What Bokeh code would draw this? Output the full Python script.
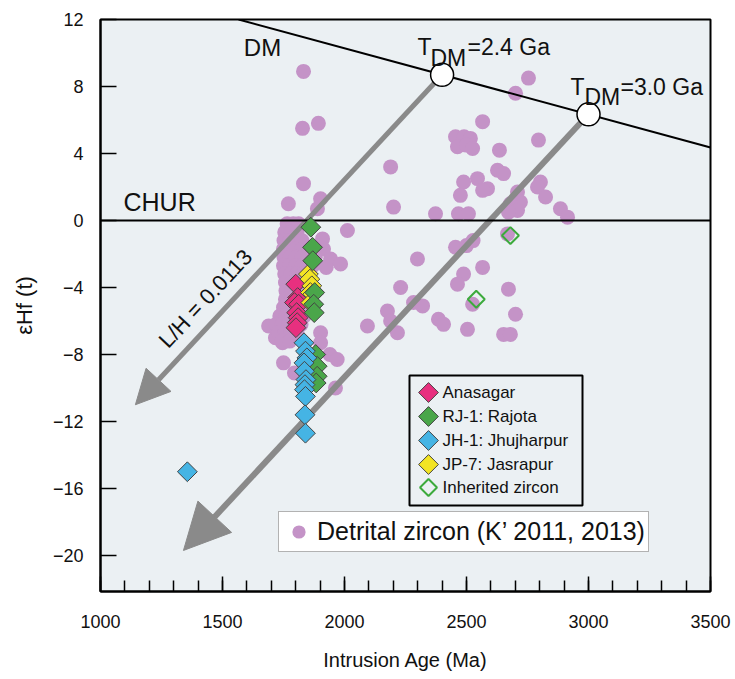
from bokeh.plotting import figure
from bokeh.models import (ColumnDataSource, Arrow, NormalHead, Label, Legend, LegendItem,
                          SingleIntervalTicker, Range1d)
from bokeh.embed import file_html
from bokeh.resources import INLINE

# ---------------- data ----------------
detrital_age = [
    1832, 1828, 1893, 2189, 1832, 1770, 1902, 1889, 2201, 2012, 1910, 1914, 1943, 1984, 1925,
    2299, 2230, 2283, 2320, 2176, 2189, 2094, 2217, 2385, 2406, 1902, 1902, 1940, 1970, 1963,
    1689, 1717, 1746, 1750, 1795,
    2754, 2701, 2566, 2795, 2455, 2490, 2516, 2463, 2500, 2525, 2635, 2627, 2652, 2488, 2545,
    2586, 2566, 2475, 2803, 2791, 2824, 2709, 2721, 2680, 2709, 2672, 2885, 2914, 2373, 2467,
    2508, 2668, 2455, 2500, 2527, 2566, 2488, 2463, 2672, 2525, 2701, 2504, 2652, 2680,
    1765, 1790, 1812,
    1755, 1780, 1805,
    1752, 1777, 1802, 1826,
    1750, 1775, 1800, 1825, 1872,
    1752, 1777, 1802, 1827, 1880,
    1750, 1775, 1800, 1826, 1870,
    1755, 1780, 1805, 1830,
    1758, 1783, 1808, 1835,
    1760, 1785, 1810, 1840,
    1758, 1782, 1806, 1835,
    1750, 1775, 1800, 1828,
    1735, 1760, 1785, 1810, 1835,
    1720, 1745, 1770, 1795, 1822,
    1730, 1755, 1780, 1805,
    1745, 1775,
]
detrital_eps = [
    8.9, 5.5, 5.8, 3.2, 2.2, 1.0, 1.3, 0.7, 0.8, -0.6, -1.1, -1.7, -2.3, -2.6, -2.8,
    -2.3, -4.0, -4.9, -5.1, -5.4, -6.0, -6.3, -6.7, -5.9, -6.2, -6.7, -7.3, -8.0, -8.3, -10.0,
    -6.3, -7.0, -7.3, -8.5, -9.1,
    8.5, 7.6, 5.9, 4.8, 5.0, 5.0, 4.9, 4.4, 4.5, 4.3, 4.2, 3.0, 2.8, 2.3, 2.5,
    1.9, 1.8, 1.5, 2.3, 2.0, 1.4, 1.7, 1.1, 1.0, 0.6, 0.5, 0.7, 0.2, 0.4, 0.4,
    0.4, -0.8, -1.6, -1.5, -1.2, -2.8, -3.2, -3.8, -4.1, -5.0, -5.6, -6.5, -6.8, -6.8,
    -0.2, -0.2, -0.2,
    -0.7, -0.7, -0.7,
    -1.2, -1.2, -1.2, -1.2,
    -1.7, -1.7, -1.7, -1.7, -1.7,
    -2.2, -2.2, -2.2, -2.2, -2.2,
    -2.7, -2.7, -2.7, -2.7, -2.7,
    -3.2, -3.2, -3.2, -3.2,
    -3.7, -3.7, -3.7, -3.7,
    -4.2, -4.2, -4.2, -4.2,
    -4.7, -4.7, -4.7, -4.7,
    -5.2, -5.2, -5.2, -5.2,
    -5.7, -5.7, -5.7, -5.7, -5.7,
    -6.2, -6.2, -6.2, -6.2, -6.2,
    -6.7, -6.7, -6.7, -6.7,
    -7.2, -7.2,
]

anasagar_age = [1800, 1808, 1795, 1812, 1804, 1810, 1806, 1801]
anasagar_eps = [-3.8, -4.6, -4.9, -5.0, -5.5, -5.8, -6.1, -6.4]

rajota_age = [1862, 1869, 1870, 1878, 1874, 1876, 1882, 1888, 1888, 1884]
rajota_eps = [-0.4, -1.6, -2.4, -4.3, -5.0, -5.5, -8.0, -8.7, -9.3, -9.7]

jhujharpur_age = [1834, 1840, 1846, 1834, 1836, 1842, 1838, 1836, 1840, 1838, 1840, 1356]
jhujharpur_eps = [-7.3, -7.8, -8.2, -8.5, -9.0, -9.5, -9.8, -10.1, -10.5, -11.6, -12.7, -15.0]

jasrapur_age = [1852, 1858, 1866, 1860, 1870, 1862]
jasrapur_eps = [-3.2, -3.5, -3.9, -4.3, -4.4, -4.9]

inherited_age = [2680, 2540]
inherited_eps = [-0.9, -4.7]

dm_age = [1566, 3500]
dm_eps = [12.0, 4.36]
chur_age = [1000, 3500]
chur_eps = [0.0, 0.0]

tdm_age = [2400, 3000]
tdm_eps = [8.7, 6.34]
arrow_end_age = [1143, 1340]
arrow_end_eps = [-11.0, -19.7]

legend_labels = ["Anasagar", "RJ-1: Rajota", "JH-1: Jhujharpur", "JP-7: Jasrapur", "Inherited zircon"]
detrital_label = "Detrital zircon (K\u2019 2011, 2013)"

# ---------------- style ----------------
FONT = "Liberation Sans"
BG = "#ebf0f3"
PURPLE = "#c493c7"
GRAY = "#8a8a8a"
ANA = "#e8307f"
RAJ = "#4aa64a"
JHU = "#45b4e4"
JAS = "#f3e424"
INH = "#3caa3c"
EDGE = "#444444"

W, H = 735, 679
FL, FR, FT, FB = 100, 710, 19, 591
X0, X1 = 1000, 3500
Y0, Y1 = -22.15, 12.0


def ax(px):
    return X0 + (px - FL) * (X1 - X0) / (FR - FL)


def ay(py):
    return Y1 - (py - FT) * (Y1 - Y0) / (FB - FT)


p = figure(width=W, height=H, x_range=Range1d(X0, X1), y_range=Range1d(Y0, Y1),
           output_backend="svg", toolbar_location=None, title=None,
           min_border_left=FL, min_border_right=W - FR, min_border_top=FT,
           min_border_bottom=H - FB, background_fill_color=BG,
           border_fill_color="white", outline_line_color="black", outline_line_width=2)
p.grid.visible = False

xa = p.xaxis[0]
xa.ticker = SingleIntervalTicker(interval=500, num_minor_ticks=5)
xa.axis_label = "Intrusion Age (Ma)"
xa.major_tick_in = 15
xa.major_tick_out = 0
xa.minor_tick_in = 11
xa.minor_tick_out = 0
xa.major_label_standoff = 23
xa.axis_label_standoff = 18

ya = p.yaxis[0]
ya.ticker = SingleIntervalTicker(interval=4, num_minor_ticks=0)
ya.axis_label = "\u03b5Hf (t)"
ya.major_tick_in = 16
ya.major_tick_out = 0
ya.minor_tick_in = 0
ya.minor_tick_out = 0
ya.major_label_standoff = 17
ya.axis_label_standoff = 13

for a in (xa, ya):
    a.axis_line_width = 2
    a.axis_line_color = "black"
    a.major_tick_line_width = 1.5
    a.minor_tick_line_width = 1.5
    a.major_label_text_font = FONT
    a.major_label_text_font_size = "18px"
    a.major_label_text_color = "#111111"
    a.axis_label_text_font = FONT
    a.axis_label_text_font_size = "22px"
    a.axis_label_text_font_style = "normal"
    a.axis_label_text_color = "#111111"
xa.axis_label_text_font_size = "20px"

# detrital zircons
det = p.scatter(detrital_age, detrital_eps, marker="circle", size=15,
                fill_color=PURPLE, line_color=None)

# L/H evolution arrows (drawn over the circles, below the diamonds)
for i, (hs, lw) in enumerate([(34, 5), (46, 6)]):
    src = ColumnDataSource(dict(x0=[tdm_age[i]], y0=[tdm_eps[i]],
                                x1=[arrow_end_age[i]], y1=[arrow_end_eps[i]]))
    arr = Arrow(end=NormalHead(size=hs, fill_color=GRAY, line_color=GRAY, line_width=1),
                x_start="x0", y_start="y0", x_end="x1", y_end="y1", source=src,
                line_color=GRAY, line_width=lw, level="glyph")
    p.renderers.append(arr)

# CHUR and DM reference lines
p.line(chur_age, chur_eps, line_color="black", line_width=2)
p.line(dm_age, dm_eps, line_color="black", line_width=2)

# sample diamonds
DIA = dict(marker="square", angle=45, angle_units="deg", size=14, line_color=EDGE, line_width=1)
p.scatter(anasagar_age, anasagar_eps, fill_color=ANA, **DIA)
p.scatter(jasrapur_age, jasrapur_eps, fill_color=JAS, **DIA)
p.scatter(rajota_age, rajota_eps, fill_color=RAJ, **DIA)
p.scatter(jhujharpur_age, jhujharpur_eps, fill_color=JHU, **DIA)
p.scatter(inherited_age, inherited_eps, marker="square", angle=45, angle_units="deg", size=12,
          fill_color=None, line_color=INH, line_width=2)

# T_DM points on the DM line
p.scatter(tdm_age, tdm_eps, marker="circle", size=23, fill_color="white",
          line_color="black", line_width=1.5)

# ---------------- text labels ----------------
def lab(x, y, text, size, align="left", baseline="alphabetic", angle=0):
    p.add_layout(Label(x=x, y=y, text=text, text_font=FONT, text_font_size=size,
                       text_align=align, text_baseline=baseline, text_color="#111111",
                       angle=angle, angle_units="deg"))


lab(ax(262), ay(47), "DM", "24px", align="center", baseline="middle")
lab(ax(123), ay(201), "CHUR", "25px", baseline="middle")
lab(ax(205), ay(298), "L/H = 0.0113", "22px", align="center", baseline="middle", angle=47)

lab(ax(417), ay(46), "T", "23px")
lab(ax(430), ay(57), "DM", "23px")
lab(ax(467), ay(46), "=2.4 Ga", "23px")
lab(ax(570), ay(86), "T", "23px")
lab(ax(584), ay(96), "DM", "23px")
lab(ax(620), ay(86), "=3.0 Ga", "23px")

# ---------------- legend for the samples (box, symbols, labels) ----------------
p.quad(left=[ax(409)], right=[ax(582)], top=[ay(375)], bottom=[ay(505)],
       fill_color=BG, line_color="black", line_width=2)
rows = [392, 416, 440, 464, 487]
fills = [ANA, RAJ, JHU, JAS]
for r, c in zip(rows[:4], fills):
    p.scatter([ax(428)], [ay(r)], fill_color=c, **DIA)
p.scatter([ax(428)], [ay(rows[4])], marker="square", angle=45, angle_units="deg", size=12,
          fill_color=None, line_color=INH, line_width=2)
for r, t in zip(rows, legend_labels):
    lab(ax(442), ay(r), t, "17px", baseline="middle")

# ---------------- legend for detrital zircons ----------------
leg = Legend(items=[LegendItem(label=detrital_label, renderers=[det])],
             location=(178, 39), orientation="vertical",
             glyph_width=33, glyph_height=33, padding=3, margin=0, spacing=0,
             label_standoff=2, label_text_font=FONT, label_text_font_size="25px",
             label_text_color="#111111", label_text_baseline="middle",
             border_line_color="#666666", border_line_width=1,
             background_fill_color="white", background_fill_alpha=1.0)
p.add_layout(leg, "center")

open("out.html", "w").write(file_html(p, INLINE))
